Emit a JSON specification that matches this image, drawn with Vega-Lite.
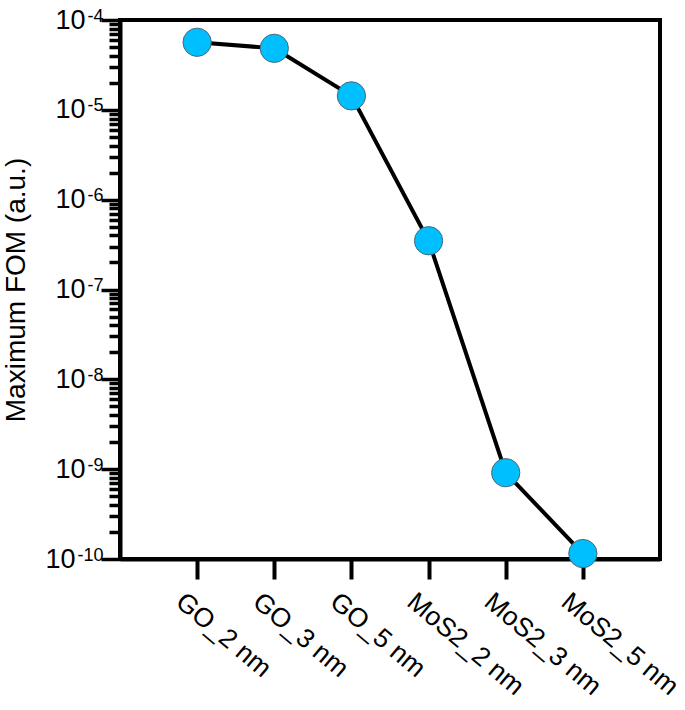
{
  "$schema": "https://vega.github.io/schema/vega-lite/v6.json",
  "width": 540,
  "height": 539,
  "padding": {"left": 2, "top": 6, "right": 5, "bottom": 0},
  "background": "white",
  "config": {
    "font": "Liberation Sans",
    "view": {"stroke": "black", "strokeWidth": 4},
    "axis": {"grid": false, "domainColor": "black", "domainWidth": 4, "tickColor": "black", "labelColor": "black", "titleColor": "black", "labelFont": "Liberation Sans", "titleFont": "Liberation Sans"}
  },
  "data": {
    "values": [
      {"sample": "GO_2 nm", "fom": 5.65e-5},
      {"sample": "GO_3 nm", "fom": 4.84e-5},
      {"sample": "GO_5 nm", "fom": 1.43e-5},
      {"sample": "MoS2_2 nm", "fom": 3.49e-7},
      {"sample": "MoS2_3 nm", "fom": 9.14e-10},
      {"sample": "MoS2_5 nm", "fom": 1.15e-10}
    ]
  },
  "encoding": {
    "x": {
      "field": "sample", "type": "nominal", "sort": null,
      "scale": {"type": "point", "padding": 1},
      "axis": {"title": null, "labelAngle": 40, "labelAlign": "left", "labelBaseline": "top", "labelFontSize": 26.5, "tickSize": 20, "tickWidth": 4, "labelPadding": 9, "labelOffset": -10}
    }
  },
  "resolve": {"axis": {"y": "independent"}},
  "layer": [
    {
      "mark": {"type": "line", "color": "black", "strokeWidth": 4},
      "encoding": {
        "y": {
          "field": "fom", "type": "quantitative",
          "scale": {"type": "log", "domain": [1e-10, 1e-4], "nice": false},
          "axis": {
            "orient": "left",
            "title": "Maximum FOM (a.u.)",
            "titleFontSize": 28, "titleFontWeight": "normal", "titlePadding": 14,
            "labelFontSize": 27, "labelAlign": "right", "labelBaseline": "middle",
            "labelPadding": {"condition": {"test": "round(-log(datum.value)/LN10) == 10", "value": 26}, "value": 16},
            "labelOverlap": false, "labelFlush": false, "labelBound": false,
            "values": [1e-10, 2e-10, 3e-10, 4e-10, 5e-10, 6e-10, 7e-10, 8e-10, 9e-10,
                       1e-9, 2e-9, 3e-9, 4e-9, 5e-9, 6e-9, 7e-9, 8e-9, 9e-9,
                       1e-8, 2e-8, 3e-8, 4e-8, 5e-8, 6e-8, 7e-8, 8e-8, 9e-8,
                       1e-7, 2e-7, 3e-7, 4e-7, 5e-7, 6e-7, 7e-7, 8e-7, 9e-7,
                       1e-6, 2e-6, 3e-6, 4e-6, 5e-6, 6e-6, 7e-6, 8e-6, 9e-6,
                       1e-5, 2e-5, 3e-5, 4e-5, 5e-5, 6e-5, 7e-5, 8e-5, 9e-5, 1e-4],
            "labelExpr": "abs(log(datum.value)/LN10 - round(log(datum.value)/LN10)) < 0.001 ? '10' : ''",
            "tickSize": {"condition": {"test": "abs(log(datum.value)/LN10 - round(log(datum.value)/LN10)) < 0.001", "value": 19}, "value": 11},
            "tickWidth": 3.5
          }
        }
      }
    },
    {
      "mark": {"type": "point", "filled": true, "shape": "circle", "size": 800, "fill": "#00BFFF", "stroke": "#4a6878", "strokeWidth": 1, "opacity": 1},
      "encoding": {
        "y": {
          "field": "fom", "type": "quantitative",
          "axis": {
            "orient": "left",
            "title": null,
            "domain": false, "ticks": false, "grid": false,
            "labelFontSize": 18, "labelAlign": "right", "labelBaseline": "middle",
            "labelPadding": 17, "labelOffset": -4,
            "labelOverlap": false, "labelFlush": false, "labelBound": false,
            "values": [1e-10, 1e-9, 1e-8, 1e-7, 1e-6, 1e-5, 1e-4],
            "labelExpr": "'-' + round(-log(datum.value)/LN10)"
          }
        }
      }
    }
  ]
}
